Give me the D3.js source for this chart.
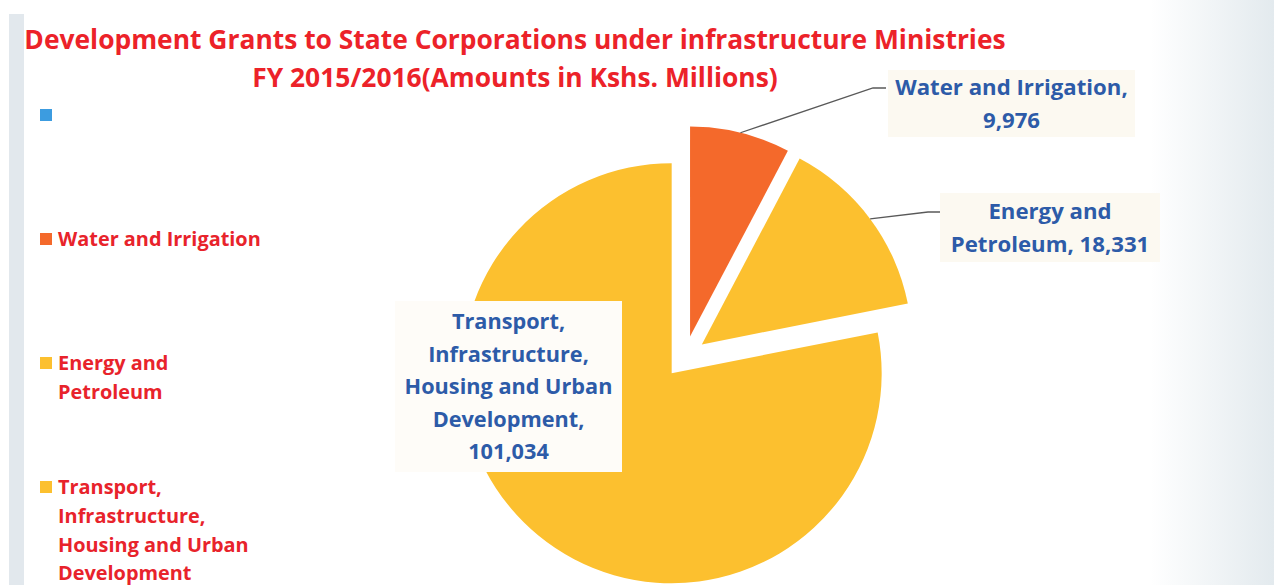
<!DOCTYPE html>
<html lang="en">
<head>
    <meta charset="UTF-8">
    <title>Development Grants</title>
    <script src="https://d3js.org/d3.v7.min.js"></script>
    <style>
        body { margin: 0; background: #fff; }
        text { font-family: "Open Sans", Lato, sans-serif; font-weight: bold; font-variant-ligatures: none; }
    </style>
</head>
<body>
    <div class="canvas"></div>
    <script>
        // data
        const categories = ['', 'Water and Irrigation', 'Energy and Petroleum',
                            'Transport, Infrastructure, Housing and Urban Development']
        const values = [0, 9976, 18331, 101034]
        const colors = ['#3c9ce0', '#f4692b', '#fcc02f', '#fcc02f']
        const titleLines = ['Development Grants to State Corporations under infrastructure Ministries',
                            'FY 2015/2016(Amounts in Kshs. Millions)']

        const width = 1274
        const height = 585

        // where the wrapped lines break (word index)
        const legendBreaks = [[], [], [2], [1, 2, 5]]
        const labelBreaks = [[], [3], [2], [1, 2, 5, 6]]

        const svg = d3.select('.canvas')
                    .append('svg')
                    .attr('width', width)
                    .attr('height', height)

        // photo-ish slide background
        const defs = svg.append('defs')
        const grad = defs.append('linearGradient').attr('id', 'rightFade')
        grad.append('stop').attr('offset', '0%').attr('stop-color', '#ffffff')
        grad.append('stop').attr('offset', '100%').attr('stop-color', '#e3eaee')
        svg.append('rect').attr('width', width).attr('height', height).attr('fill', '#ffffff')
        svg.append('rect').attr('x', 1150).attr('y', 0).attr('width', 124).attr('height', height)
            .attr('fill', 'url(#rightFade)')
        svg.append('rect').attr('x', 9).attr('y', 14).attr('width', 15).attr('height', height)
            .attr('fill', '#e2e8ed')

        // title
        svg.selectAll('.title')
            .data(titleLines)
            .enter()
            .append('text')
            .attr('class', 'title')
            .attr('x', 515)
            .attr('y', (d, i) => 49 + i * 38)
            .attr('text-anchor', 'middle')
            .attr('fill', '#ec2229')
            .style('font-size', '26.4px')
            .text(d => d)

        function splitAt(str, breaks) {
            const words = str.split(' ')
            const lines = []
            let start = 0
            breaks.concat([words.length]).forEach(b => {
                lines.push(words.slice(start, b).join(' '))
                start = b
            })
            return lines
        }

        // legend
        const legend = svg.append('g')
        const legendItems = legend.selectAll('g')
            .data(categories)
            .enter()
            .append('g')
            .attr('transform', (d, i) => `translate(40, ${115 + i * 124})`)

        legendItems.append('rect')
            .attr('x', 0).attr('y', -6)
            .attr('width', 12).attr('height', 12)
            .attr('fill', (d, i) => colors[i])

        legendItems.append('text')
            .attr('fill', '#e8232b')
            .style('font-size', '19.9px')
            .selectAll('tspan')
            .data((d, i) => d === '' ? [] : splitAt(d, legendBreaks[i]))
            .enter()
            .append('tspan')
            .attr('x', 18)
            .attr('y', (d, j) => j * 28.8)
            .attr('dy', '0.35em')
            .text(d => d)

        // pie
        const cx = 685, cy = 357, r = 210, explode = 21
        const data = categories.map((c, i) => ({ name: c, value: values[i], color: colors[i], i: i }))
        const pie = d3.pie().sort(null).value(d => d.value)
        const arc = d3.arc().innerRadius(0).outerRadius(r)
        const arcs = pie(data).filter(d => d.value > 0)

        const mid = d => (d.startAngle + d.endAngle) / 2
        const offset = d => [explode * Math.sin(mid(d)), -explode * Math.cos(mid(d))]

        svg.append('g')
            .attr('transform', `translate(${cx}, ${cy})`)
            .selectAll('path')
            .data(arcs)
            .enter()
            .append('path')
            .attr('transform', d => `translate(${offset(d)[0]}, ${offset(d)[1]})`)
            .attr('d', arc)
            .attr('fill', d => d.data.color)

        // data labels
        const labelBoxes = {
            1: { x: 888, y: 70, w: 247, h: 67, elbow: [873, 88], end: [886, 88] },
            2: { x: 940, y: 193, w: 220, h: 69, elbow: [928, 212], end: [940, 212] },
            3: { x: 395, y: 301, w: 227, h: 171 }
        }
        const fmt = d3.format(',')

        arcs.forEach(d => {
            const box = labelBoxes[d.data.i]
            const lines = splitAt(d.data.name + ', ' + fmt(d.value), labelBreaks[d.data.i])
            const g = svg.append('g')

            if (box.elbow) {
                const o = offset(d)
                const sx = cx + o[0] + r * Math.sin(mid(d))
                const sy = cy + o[1] - r * Math.cos(mid(d))
                g.append('path')
                    .attr('d', d3.line()([[sx, sy], box.elbow, box.end]))
                    .attr('fill', 'none')
                    .attr('stroke', '#595959')
                    .attr('stroke-width', 1.3)
            }

            g.append('rect')
                .attr('x', box.x).attr('y', box.y)
                .attr('width', box.w).attr('height', box.h)
                .attr('fill', d.data.i === 3 ? '#fefcf8' : '#fcf9f1')

            const lh = 32.5
            const top = box.y + box.h / 2 - (lines.length - 1) * lh / 2
            g.append('text')
                .attr('text-anchor', 'middle')
                .attr('fill', '#2d5ba8')
                .style('font-size', d.data.i === 3 ? '21.7px' : '22.2px')
                .selectAll('tspan')
                .data(lines)
                .enter()
                .append('tspan')
                .attr('x', box.x + box.w / 2)
                .attr('y', (t, j) => top + j * lh)
                .attr('dy', '0.35em')
                .text(t => t)
        })
    </script>
</body>
</html>
